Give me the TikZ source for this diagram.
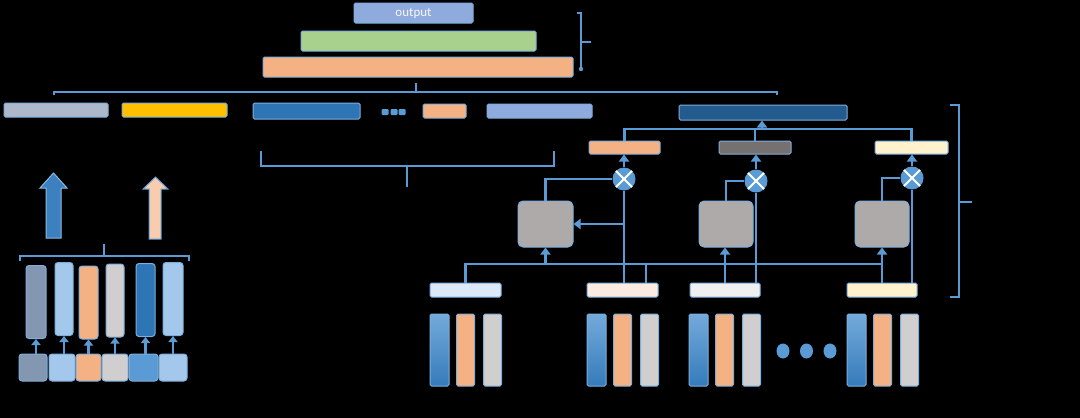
\documentclass[tikz,border=0pt]{standalone}
\usepackage{fontspec}
\setsansfont{Carlito}
\usetikzlibrary{arrows.meta}
\definecolor{lineblue}{HTML}{5B9BD5}
\definecolor{outblue}{HTML}{8FAADC}
\definecolor{leafgreen}{HTML}{A9D18E}
\definecolor{peach}{HTML}{F4B183}
\definecolor{slate}{HTML}{ADB9CA}
\definecolor{gold}{HTML}{FFC000}
\definecolor{midblue}{HTML}{2E75B6}
\definecolor{navy}{HTML}{245B8F}
\definecolor{ash}{HTML}{767171}
\definecolor{cream}{HTML}{FFF2CC}
\definecolor{stone}{HTML}{AEAAAA}
\definecolor{steel}{HTML}{8497B0}
\definecolor{sky}{HTML}{A4C8EC}
\definecolor{silver}{HTML}{D0CECE}
\begin{document}
\begin{tikzpicture}[x=1pt, y=-1pt,
    box/.style={draw=lineblue!80!white, line width=1pt, rounded corners=1.5pt, inner sep=0pt},
    conn/.style={draw=lineblue, line width=2.7pt},
    arr/.style={conn, -{Triangle[length=7pt, width=10pt]}},
    brace/.style={conn, line width=2.3pt},
    bluebar/.style={top color=lineblue!85!white, bottom color=midblue!85!lineblue},
    mult/.style={circle, fill=lineblue, minimum size=23pt, inner sep=0pt,
      path picture={\draw[white, line width=2pt]
        (path picture bounding box.north west) -- (path picture bounding box.south east)
        (path picture bounding box.north east) -- (path picture bounding box.south west);}}]
    \fill[black] (0,0) rectangle (1080,418);
    \useasboundingbox (0,0) rectangle (1080,418);

    % top stack
    \node[box, fill=outblue, minimum width=119pt, minimum height=20pt, text=white!92!outblue,
      font=\sffamily\fontsize{13}{13}\selectfont] at (413.5,13) (out) {output};
    \node[box, fill=leafgreen, minimum width=235pt, minimum height=20pt] at (418.5,41) (grn) {};
    \node[box, fill=peach, minimum width=310pt, minimum height=20pt] at (418,67) (stk) {};
    \draw[brace] (577,13) -- (581,13) -- (581,69);
    \fill[lineblue] (581,69) circle (2.2pt);
    \draw[brace] (581,42) -- (591,42);
    \draw[brace] (54,95) -- (54,92) -- (777,92) -- (777,95);
    \draw[brace] (416,92) -- (416,83);

    % row of embeddings
    \node[box, fill=slate, minimum width=104pt, minimum height=14pt] at (56,110) (r1) {};
    \node[box, fill=gold, minimum width=105pt, minimum height=14pt] at (174.5,110) (r2) {};
    \node[box, fill=midblue, minimum width=107pt, minimum height=16pt] at (306.5,111) (r3) {};
    \foreach \x in {385,394,402}
      \fill[lineblue, rounded corners=1pt] (\x-3.5,109) rectangle (\x+3.5,115);
    \node[box, fill=peach, minimum width=43pt, minimum height=14pt] at (444.5,111) (r4) {};
    \node[box, fill=outblue, minimum width=105pt, minimum height=14pt] at (539.5,111) (r5) {};
    \draw[brace] (261,151) -- (261,166) -- (554,166) -- (554,151);
    \draw[brace] (407,166) -- (407,187);

    % attention part
    \node[box, fill=navy, minimum width=168pt, minimum height=15pt] at (763,112.5) (agg) {};
    \node[box, fill=peach, minimum width=71pt, minimum height=13pt] at (624.5,147.5) (a1) {};
    \node[box, fill=ash, minimum width=72pt, minimum height=13pt] at (755,147.5) (a2) {};
    \node[box, fill=cream, minimum width=73pt, minimum height=13pt] at (911.5,147.5) (a3) {};
    \node[mult] at (624,179) (m1) {};
    \node[mult] at (756,181) (m2) {};
    \node[mult] at (912,178) (m3) {};
    \node[box, fill=stone, rounded corners=5pt, minimum width=55pt, minimum height=46pt] at (545.5,224) (g1) {};
    \node[box, fill=stone, rounded corners=5pt, minimum width=54pt, minimum height=46pt] at (726,224) (g2) {};
    \node[box, fill=stone, rounded corners=5pt, minimum width=54pt, minimum height=46pt] at (882,224) (g3) {};
    \node[box, fill=blue!8!lineblue!20!white, minimum width=71pt, minimum height=14pt] at (465.5,290) (i1) {};
    \node[box, fill=peach!25!white, minimum width=71pt, minimum height=14pt] at (622.5,290) (i2) {};
    \node[box, fill=black!6, minimum width=70pt, minimum height=14pt] at (725,290) (i3) {};
    \node[box, fill=cream, minimum width=70pt, minimum height=14pt] at (882,290) (i4) {};
    \coordinate (hub) at (762,129);
    \coordinate (busL) at (465.5,264);
    \coordinate (busR) at (882,264);
    \coordinate (busK) at (646,264);

    \draw[conn] (a1.north) |- (hub) -| (a3.north);
    \draw[conn] (a2.north) -- (a2.north |- hub);
    \draw[arr] (hub) -- (hub |- agg.south);
    \draw[arr] (m1.north) -- (m1.north |- a1.south);
    \draw[arr] (m2.north) -- (m2.north |- a2.south);
    \draw[arr] (m3.north) -- (m3.north |- a3.south);
    \draw[conn] (m1.west) -| (g1.north);
    \draw[conn] (m2.west) -| (g2.north);
    \draw[conn] (m3.west) -| (g3.north);
    \draw[arr] (m1 |- g1) -- (g1.east);
    \draw[conn] (i1.north) |- (busR);
    \draw[arr] (g1.south |- busL) -- (g1.south);
    \draw[conn] (busK) -- (busK |- i2.north);
    \draw[arr] (i3.north) -- (i3.north |- g2.south);
    \draw[arr] (i4.north) -- (g3.south);
    \draw[conn] (i2.north -| m1) -- (m1.south);
    \draw[conn] (i3.north -| m2) -- (m2.south);
    \draw[conn] (i4.north -| m3) -- (m3.south);
    \draw[brace] (950,105) -- (959,105) -- (959,297) -- (950,297);
    \draw[brace] (959,202) -- (972,202);

    % feature columns
    \foreach \gx/\gn in {430/1, 587/2, 689/3, 847/4} {
      \node[box, bluebar, minimum width=19pt, minimum height=72pt] at (\gx+9.5,350) (kb\gn) {};
      \node[box, fill=peach, minimum width=18pt, minimum height=72pt] at (\gx+35.5,350) (ko\gn) {};
      \node[box, fill=silver, minimum width=18pt, minimum height=72pt] at (\gx+62.5,350) (kg\gn) {};
    }
    \foreach \x in {783,806.5,830}
      \fill[lineblue] (\x,351) ellipse (6.5pt and 7.5pt);

    % left part
    \draw[draw=lineblue!70!white, fill=midblue!70!lineblue, line width=1pt]
      (46,238) -- (46,188) -- (40,188) -- (53.5,173) -- (67,188) -- (61,188) -- (61,238) -- cycle;
    \draw[draw=lineblue, fill=peach!65!white, line width=1pt]
      (149,239) -- (149,189) -- (143,189) -- (155.5,177) -- (168,189) -- (161,189) -- (161,239) -- cycle;
    \draw[brace] (20,261) -- (20,256) -- (189,256) -- (189,261);
    \draw[brace] (104,256) -- (104,244);
    \foreach \n/\x/\y/\w/\c in {1/36/302/20/steel, 2/64/299/18/sky, 3/88.5/302.5/19/peach,
        4/115/300.5/18/silver, 5/145.5/300/19/midblue, 6/173/299/20/sky}
      \node[box, fill=\c, rounded corners=3pt, minimum width=\w pt, minimum height=73pt] at (\x,\y) (t\n) {};
    \foreach \n/\x/\w/\c in {1/33/28/steel, 2/62/26/sky, 3/88.5/25/peach,
        4/115/26/silver, 5/143.5/29/lineblue, 6/173/28/sky} {
      \node[box, fill=\c, rounded corners=3pt, minimum width=\w pt, minimum height=27pt] at (\x,367.5) (s\n) {};
      \draw[arr, -{Triangle[length=6pt, width=9pt]}] (s\n.north -| t\n) -- (t\n.south);
    }
\end{tikzpicture}
\end{document}
